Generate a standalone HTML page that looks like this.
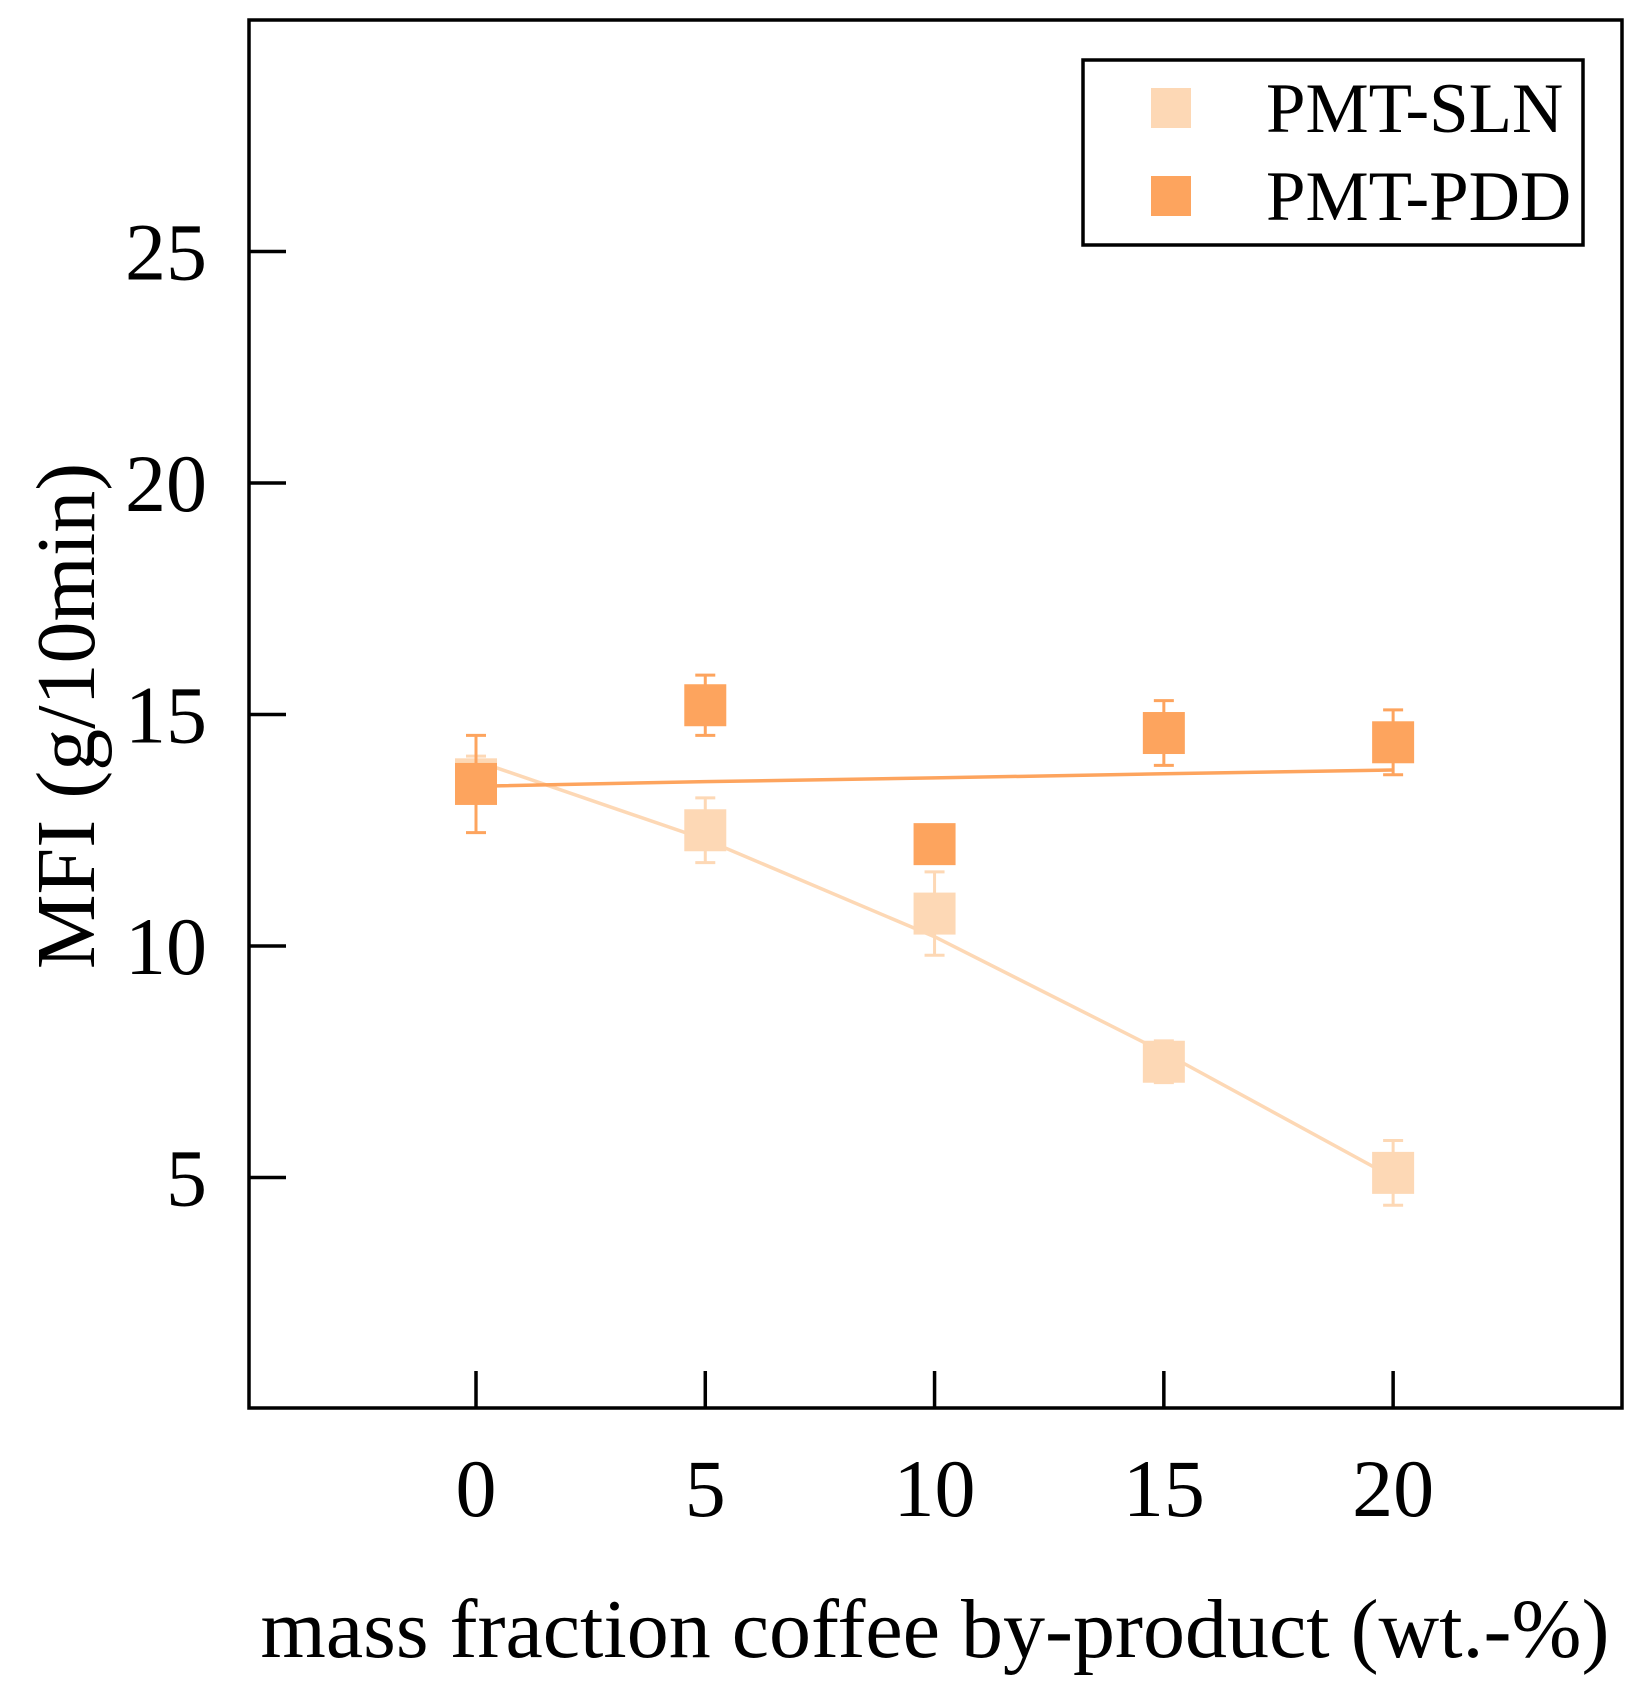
<!DOCTYPE html>
<html><head><meta charset="utf-8"><style>
body{margin:0;background:#fff}
svg text{font-family:"Liberation Serif",serif;fill:#000}
</style></head><body>
<svg width="1646" height="1689" viewBox="0 0 1646 1689" xmlns="http://www.w3.org/2000/svg">
<g id="plot"></g>
<rect x="249" y="20" width="1373" height="1388" fill="none" stroke="#000" stroke-width="3.5"/>
<g>
<rect x="1083" y="60" width="500" height="185" fill="#fff" stroke="#000" stroke-width="3.5"/>
<rect x="1151" y="88" width="40" height="40" fill="#fdd8b5"/>
<text x="1266" y="132" font-size="71">PMT-SLN</text>
<rect x="1151" y="176" width="40" height="40" fill="#fda45e"/>
<text x="1266" y="220" font-size="71">PMT-PDD</text>
</g>
<text transform="translate(94,716) rotate(-90)" text-anchor="middle" font-size="84">MFI (g/10min)</text>
<text x="935" y="1657" text-anchor="middle" font-size="84">mass fraction coffee by-product (wt.-%)</text>
</svg>
<script>
const xCats=[0,5,10,15,20];
const yTicks=[5,10,15,20,25];
const slnVals=[13.6,12.5,10.7,7.5,5.1];
const slnErr=[0.5,0.7,0.9,0.45,0.7];
const slnFit=[14.0,12.3,10.2,7.7,5.0];
const pddVals=[13.5,15.2,12.2,14.6,14.4];
const pddErr=[1.05,0.65,0.3,0.7,0.7];
const pddFit=[13.45,13.55,13.63,13.72,13.8];
const NS='http://www.w3.org/2000/svg';
const X=v=>476+v*42.55*1.0777;
const Y=v=>1177.5-(v-5)*46.3;
const g=document.getElementById('plot');
function mk(t,a,name){const e=document.createElementNS(NS,t);for(const k in a)e.setAttribute(k,a[k]);


g.appendChild(e);return e;}
yTicks.forEach(v=>{
 mk('line',{x1:249,x2:286,y1:Y(v),y2:Y(v),stroke:'#000','stroke-width':3.5},'y-tick-'+v);
 const t=mk('text',{x:207,y:Y(v)+28,'text-anchor':'end','font-size':82},'y-tick-label-'+v);t.textContent=v;
});
xCats.forEach(v=>{
 mk('line',{x1:X(v),x2:X(v),y1:1408,y2:1371,stroke:'#000','stroke-width':3.5},'x-tick-'+v);
 const t=mk('text',{x:X(v),y:1516,'text-anchor':'middle','font-size':82},'x-tick-label-'+v);t.textContent=v;
});
function series(vals,err,fit,col,name){
 mk('polyline',{points:xCats.map((c,i)=>X(c)+','+Y(fit[i])).join(' '),fill:'none',stroke:col,'stroke-width':3.5},name+'-fit-line');
 xCats.forEach((c,i)=>{
  const x=X(c),t=Y(vals[i]+err[i]),b=Y(vals[i]-err[i]);
  mk('path',{d:`M${x},${t}V${b}M${x-10},${t}H${x+10}M${x-10},${b}H${x+10}`,stroke:col,'stroke-width':3,fill:'none'},name+'-error-'+c);
  mk('rect',{x:x-21,y:Y(vals[i])-21,width:42,height:42,fill:col},name+'-point-'+c);
 });
}
series(slnVals,slnErr,slnFit,'#fdd8b5','sln');
series(pddVals,pddErr,pddFit,'#fda45e','pdd');
</script>
</body></html>
